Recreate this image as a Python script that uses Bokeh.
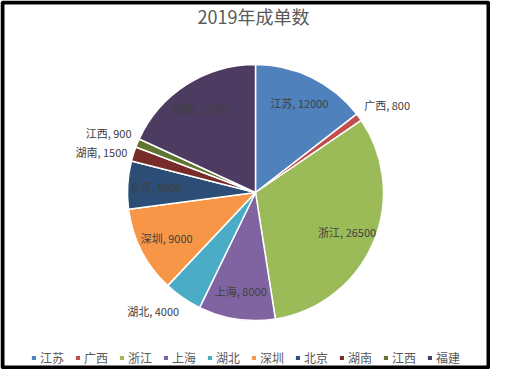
import math
from bokeh.plotting import figure
from bokeh.models import Range1d, Legend, LegendItem, ColumnDataSource
from bokeh.core.properties import value
from bokeh.embed import file_html
from bokeh.resources import INLINE

# ---- data ----
title_text = "2019年成单数"
regions = ["江苏", "广西", "浙江", "上海", "湖北", "深圳", "北京", "湖南", "江西", "福建"]
orders = [12000, 800, 26500, 8000, 4000, 9000, 5000, 1500, 900, 15000]
colors = ["#4F81BD", "#C0504D", "#9BBB59", "#8064A2", "#4BACC6",
          "#F79646", "#2C4D75", "#772C2A", "#5F7530", "#4D3B62"]

# ---- layout ----
W, H = 490, 369
cx, cy, R = 255, H - 192, 128
FONT_NAME = "Noto Sans CJK SC"
FONT = value(FONT_NAME)

total = sum(orders)
starts, ends, mids = [], [], []
acc = 0
for v in orders:
    a0 = math.pi / 2 - 2 * math.pi * acc / total
    acc += v
    a1 = math.pi / 2 - 2 * math.pi * acc / total
    starts.append(a0)
    ends.append(a1)
    mids.append((a0 + a1) / 2)

src = ColumnDataSource(dict(region=regions, orders=orders, color=colors,
                            start=starts, end=ends))

p = figure(width=W, height=H, x_range=Range1d(0, W), y_range=Range1d(0, H),
           x_axis_type=None, y_axis_type=None, output_backend="svg",
           toolbar_location=None, min_border=0)
p.background_fill_color = "white"
p.border_fill_color = "white"
p.outline_line_color = None

# frame border
p.quad(left=[2], right=[W - 2], bottom=[2], top=[H - 2], fill_color=None,
       line_color="black", line_width=4)

wr = p.wedge(x=cx, y=cy, radius=R, start_angle="start", end_angle="end",
             direction="clock", fill_color="color", line_color="white",
             line_width=1.5, source=src)

# data labels
lx, ly, lt, la, lb = [], [], [], [], []
for name, v, m in zip(regions, orders, mids):
    inside = v >= 5000
    r = 0.78 * R if inside else 1.05 * R
    lx.append(cx + r * math.cos(m))
    ly.append(cy + r * math.sin(m))
    lt.append(f"{name}, {v}")
    if inside:
        la.append("center")
        lb.append("middle")
    else:
        la.append("left" if math.cos(m) > 0 else "right")
        s = math.sin(m)
        lb.append("bottom" if s > 0.35 else ("top" if s < -0.5 else "middle"))

lsrc = ColumnDataSource(dict(x=lx, y=ly, text=lt, align=la, base=lb))
p.text(x="x", y="y", text="text", text_align="align", text_baseline="base",
       text_font=FONT, text_font_size="11px", text_color="#404040", source=lsrc)

# title
p.text(x=[253], y=[H - 15], text=[title_text], text_align="center",
       text_baseline="middle", text_font=FONT, text_font_size="18px",
       text_color="#595959")

items = [LegendItem(label=regions[i], renderers=[wr], index=i) for i in range(len(regions))]
legend = Legend(items=items, orientation="horizontal", location="bottom_center",
                glyph_width=7, glyph_height=7, label_standoff=3, spacing=10,
                padding=0, margin=3, border_line_alpha=0, background_fill_alpha=0,
                label_text_font=FONT_NAME, label_text_font_size="12px",
                label_text_color="#595959", label_height=14)
p.add_layout(legend)

open("out.html", "w").write(file_html(p, INLINE))
